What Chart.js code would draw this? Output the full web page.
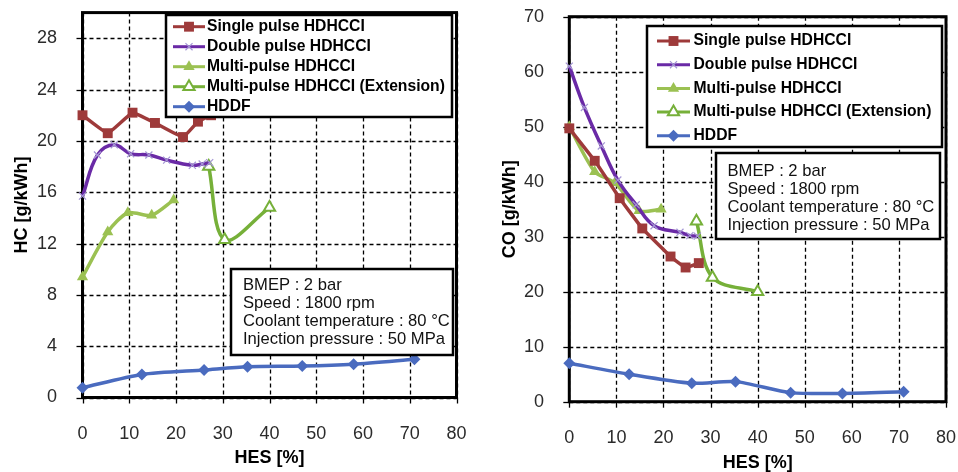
<!DOCTYPE html>
<html>
<head>
<meta charset="utf-8">
<title>HC and CO emissions vs HES</title>
<script src="https://cdn.jsdelivr.net/npm/chart.js@4.4.0/dist/chart.umd.min.js"></script>
<style>
  body { margin: 0; background: #fff; }
  .wrap { position: absolute; top: 0; width: 479px; height: 472px; }
  #hcWrap { left: 0; }
  #coWrap { left: 479px; }
</style>
</head>
<body>
<div class="wrap" id="hcWrap"><canvas id="hcChart" width="479" height="472"></canvas></div>
<div class="wrap" id="coWrap"><canvas id="coChart" width="479" height="472"></canvas></div>
<script>
// Axis ticks
const hesTicks = [0, 10, 20, 30, 40, 50, 60, 70, 80];
const hcTicks = [0, 4, 8, 12, 16, 20, 24, 28];
const coTicks = [0, 10, 20, 30, 40, 50, 60, 70];

// Series labels
const seriesNames = [
  'Single pulse HDHCCI',
  'Double pulse HDHCCI',
  'Multi-pulse HDHCCI',
  'Multi-pulse HDHCCI (Extension)',
  'HDDF'
];
const conditionLines = [
  'BMEP : 2 bar',
  'Speed : 1800 rpm',
  'Coolant temperature : 80 °C',
  'Injection pressure : 50 MPa'
];

// HES [%] of each series
const singleHes = [0, 5.4, 10.7, 15.5, 21.5, 24.7, 27.5];
const doubleHes = [0, 3.2, 6.8, 10.3, 14.2, 18, 23.5, 25.6, 27.2];
const multiHes = [0, 5.4, 9.7, 14.8, 19.5];
const extHes = [27, 30.4, 40];
const hddfHes = [0, 12.7, 26, 35.3, 47, 58, 71];

// HC [g/kWh]
const hcSingle = [22.0, 20.6, 22.2, 21.4, 20.3, 21.5, 22.0];
const hcDouble = [15.7, 18.9, 19.7, 19.0, 18.9, 18.5, 18.1, 18.2, 18.3];
const hcMulti = [9.4, 12.9, 14.4, 14.2, 15.4];
const hcExt = [18.0, 12.3, 14.8];
const hcHddf = [0.76, 1.8, 2.15, 2.4, 2.45, 2.6, 2.98];

// CO [g/kWh]
const coSingle = [49.7, 43.8, 37.0, 31.5, 26.4, 24.4, 25.2];
const coDouble = [61, 53.5, 46.5, 40.3, 35.8, 32, 30.8, 30.2, 30.1];
const coMulti = [50, 41.8, 39.8, 34.7, 35.0];
const coExt = [32.8, 22.6, 20.0];
const coHddf = [7.0, 5.0, 3.35, 3.65, 1.65, 1.5, 1.8];

const FONT = '"Liberation Sans", Arial, sans-serif';
const COLORS = {
  single: '#9e3a3a',
  double: '#6a2aa6',
  doubleMark: '#a496d4',
  multi: '#9bc152',
  ext: '#76b039',
  hddf: '#4a6bbf'
};

Chart.defaults.font.family = FONT;

function pts(xs, ys) {
  return xs.map((x, i) => ({ x: x, y: ys[i] }));
}

function buildDatasets(single, double, multi, ext, hddf) {
  const base = { borderWidth: 3.5, clip: false, pointHoverRadius: 0 };
  return [
    Object.assign({}, base, {
      label: seriesNames[0], data: pts(singleHes, single),
      borderColor: COLORS.single, pointBackgroundColor: COLORS.single, pointBorderColor: COLORS.single,
      pointStyle: 'rect', pointRadius: 7, pointBorderWidth: 0, tension: 0.1
    }),
    Object.assign({}, base, {
      label: seriesNames[1], data: pts(doubleHes, double),
      borderColor: COLORS.double, pointBackgroundColor: COLORS.doubleMark, pointBorderColor: COLORS.doubleMark,
      pointStyle: 'crossRot', pointRadius: 5, pointBorderWidth: 1.2, tension: 0.4
    }),
    Object.assign({}, base, {
      label: seriesNames[2], data: pts(multiHes, multi),
      borderColor: COLORS.multi, pointBackgroundColor: COLORS.multi, pointBorderColor: COLORS.multi,
      pointStyle: 'triangle', pointRadius: 6.5, pointBorderWidth: 0, tension: 0.25
    }),
    Object.assign({}, base, {
      label: seriesNames[3], data: pts(extHes, ext),
      borderColor: COLORS.ext, pointBackgroundColor: '#fff', pointBorderColor: COLORS.ext,
      pointStyle: 'triangle', pointRadius: 6.5, pointBorderWidth: 2, tension: 0.35
    }),
    Object.assign({}, base, {
      label: seriesNames[4], data: pts(hddfHes, hddf),
      borderColor: COLORS.hddf, pointBackgroundColor: COLORS.hddf, pointBorderColor: COLORS.hddf,
      pointStyle: 'rectRot', pointRadius: 6, pointBorderWidth: 0, tension: 0.25
    })
  ];
}

// Dashed grid, tick marks, plot frame, legend box and test condition box
const framePlugin = {
  id: 'framePlugin',
  beforeDatasetsDraw(chart, args, o) {
    const { ctx, chartArea: a, scales } = chart;
    ctx.save();
    ctx.strokeStyle = '#000000';
    ctx.lineWidth = 1.3;
    hesTicks.forEach(v => {
      const px = Math.round(scales.x.getPixelForValue(v)) + 0.5;
      ctx.setLineDash([4, 3]);
      ctx.beginPath();
      ctx.moveTo(px, a.top);
      ctx.lineTo(px, a.bottom);
      ctx.stroke();
      ctx.setLineDash([]);
      ctx.beginPath();
      ctx.moveTo(px, a.bottom);
      ctx.lineTo(px, a.bottom + 6);
      ctx.stroke();
    });
    o.yTicks.forEach(v => {
      const py = Math.round(scales.y.getPixelForValue(v)) + 0.5;
      ctx.setLineDash([4, 3]);
      ctx.beginPath();
      ctx.moveTo(a.left, py);
      ctx.lineTo(a.right, py);
      ctx.stroke();
      ctx.setLineDash([]);
      ctx.beginPath();
      ctx.moveTo(a.left - 6, py);
      ctx.lineTo(a.left, py);
      ctx.stroke();
    });
    ctx.lineWidth = 3;
    ctx.strokeRect(a.left, a.top, a.right - a.left, a.bottom - a.top);
    ctx.restore();
  },
  afterDraw(chart, args, o) {
    const ctx = chart.ctx;
    const lg = o.legend;
    ctx.save();
    ctx.fillStyle = '#fff';
    ctx.fillRect(lg.x, lg.y, lg.w, lg.h);
    ctx.lineWidth = 2.5;
    ctx.strokeStyle = '#000';
    ctx.strokeRect(lg.x, lg.y, lg.w, lg.h);
    ctx.font = 'bold 15.7px ' + FONT;
    ctx.textBaseline = 'middle';
    chart.data.datasets.forEach((ds, i) => {
      const y = lg.y + lg.first + i * lg.row;
      ctx.beginPath();
      ctx.moveTo(lg.x + lg.s0, y);
      ctx.lineTo(lg.x + lg.s1, y);
      ctx.strokeStyle = ds.borderColor;
      ctx.lineWidth = 3;
      ctx.stroke();
      ctx.fillStyle = ds.pointBackgroundColor;
      ctx.strokeStyle = ds.pointBorderColor;
      ctx.lineWidth = ds.pointBorderWidth;
      Chart.helpers.drawPoint(ctx, {
        pointStyle: ds.pointStyle, radius: ds.pointRadius, rotation: 0, borderWidth: ds.pointBorderWidth
      }, lg.x + (lg.s0 + lg.s1) / 2, y);
      ctx.fillStyle = '#000';
      ctx.fillText(ds.label, lg.x + lg.tx, y);
    });

    const nb = o.note;
    ctx.fillStyle = '#fff';
    ctx.fillRect(nb.x, nb.y, nb.w, nb.h);
    ctx.lineWidth = 2.5;
    ctx.strokeStyle = '#000';
    ctx.strokeRect(nb.x, nb.y, nb.w, nb.h);
    ctx.fillStyle = '#111';
    ctx.font = '16.6px ' + FONT;
    conditionLines.forEach((t, i) => {
      ctx.fillText(t, nb.x + nb.tx, nb.y + nb.first + i * nb.row);
    });
    ctx.restore();
  }
};

// Drop the extra room Chart.js reserves around edge labels so the plot area sits where it should
function fixPadding(s) {
  s.paddingLeft = 0;
  s.paddingRight = 0;
  s.paddingTop = 0;
  s.paddingBottom = 0;
}

function makeChart(id, datasets, cfg) {
  const canvas = document.getElementById(id);
  return new Chart(canvas, {
    type: 'line',
    data: { datasets: datasets },
    options: {
      responsive: false,
      animation: false,
      events: [],
      layout: { padding: cfg.padding },
      plugins: {
        legend: { display: false },
        tooltip: { enabled: false },
        framePlugin: { legend: cfg.legend, note: cfg.note, yTicks: cfg.yTicks }
      },
      scales: {
        x: {
          type: 'linear',
          min: 0,
          max: 80,
          afterBuildTicks: s => { s.ticks = hesTicks.map(v => ({ value: v })); },
          afterFit: s => { s.height = cfg.xHeight; fixPadding(s); },
          grid: { display: false },
          border: { display: false },
          ticks: { color: '#2b2b2b', font: { size: 18 }, padding: cfg.xTickPad, maxRotation: 0 },
          title: {
            display: true, text: 'HES [%]', color: '#000',
            font: { size: 18, weight: 'bold', lineHeight: 1 },
            padding: { top: 0, bottom: cfg.xTitlePad }
          }
        },
        y: {
          min: 0,
          max: cfg.yMax,
          afterBuildTicks: s => { s.ticks = cfg.yTicks.map(v => ({ value: v })); },
          afterFit: s => { s.width = cfg.yWidth; fixPadding(s); },
          grid: { display: false },
          border: { display: false },
          ticks: { color: '#2b2b2b', font: { size: 18 }, padding: cfg.yTickPad },
          title: {
            display: true, text: cfg.yTitle, color: '#000',
            font: { size: 18, weight: 'bold', lineHeight: 1 },
            padding: { top: cfg.yTitlePad, bottom: 0 }
          }
        }
      }
    },
    plugins: [framePlugin]
  });
}

makeChart('hcChart', buildDatasets(hcSingle, hcDouble, hcMulti, hcExt, hcHddf), {
  padding: { left: 0, top: 12.6, right: 22.5, bottom: 0 },
  yWidth: 82.5,
  xHeight: 74.5,
  yMax: 30,
  yTicks: hcTicks,
  yTitle: 'HC [g/kWh]',
  yTitlePad: 13,
  yTickPad: 17.5,
  xTickPad: 18,
  xTitlePad: 5,
  legend: { x: 166, y: 15, w: 286, h: 102, first: 11.7, row: 20, s0: 7, s1: 39, tx: 41 },
  note: { x: 231, y: 269, w: 222, h: 86, first: 16, row: 18, tx: 12 }
});

makeChart('coChart', buildDatasets(coSingle, coDouble, coMulti, coExt, coHddf), {
  padding: { left: 0, top: 16.7, right: 12, bottom: 0 },
  yWidth: 90.3,
  xHeight: 70.3,
  yMax: 70,
  yTicks: coTicks,
  yTitle: 'CO [g/kWh]',
  yTitlePad: 22,
  yTickPad: 17.3,
  xTickPad: 17.5,
  xTitlePad: 0,
  legend: { x: 168, y: 26, w: 295, h: 121, first: 15, row: 23.7, s0: 10, s1: 43, tx: 46.5 },
  note: { x: 237, y: 153, w: 224, h: 86, first: 18, row: 18.2, tx: 11.5 }
});
</script>
</body>
</html>
